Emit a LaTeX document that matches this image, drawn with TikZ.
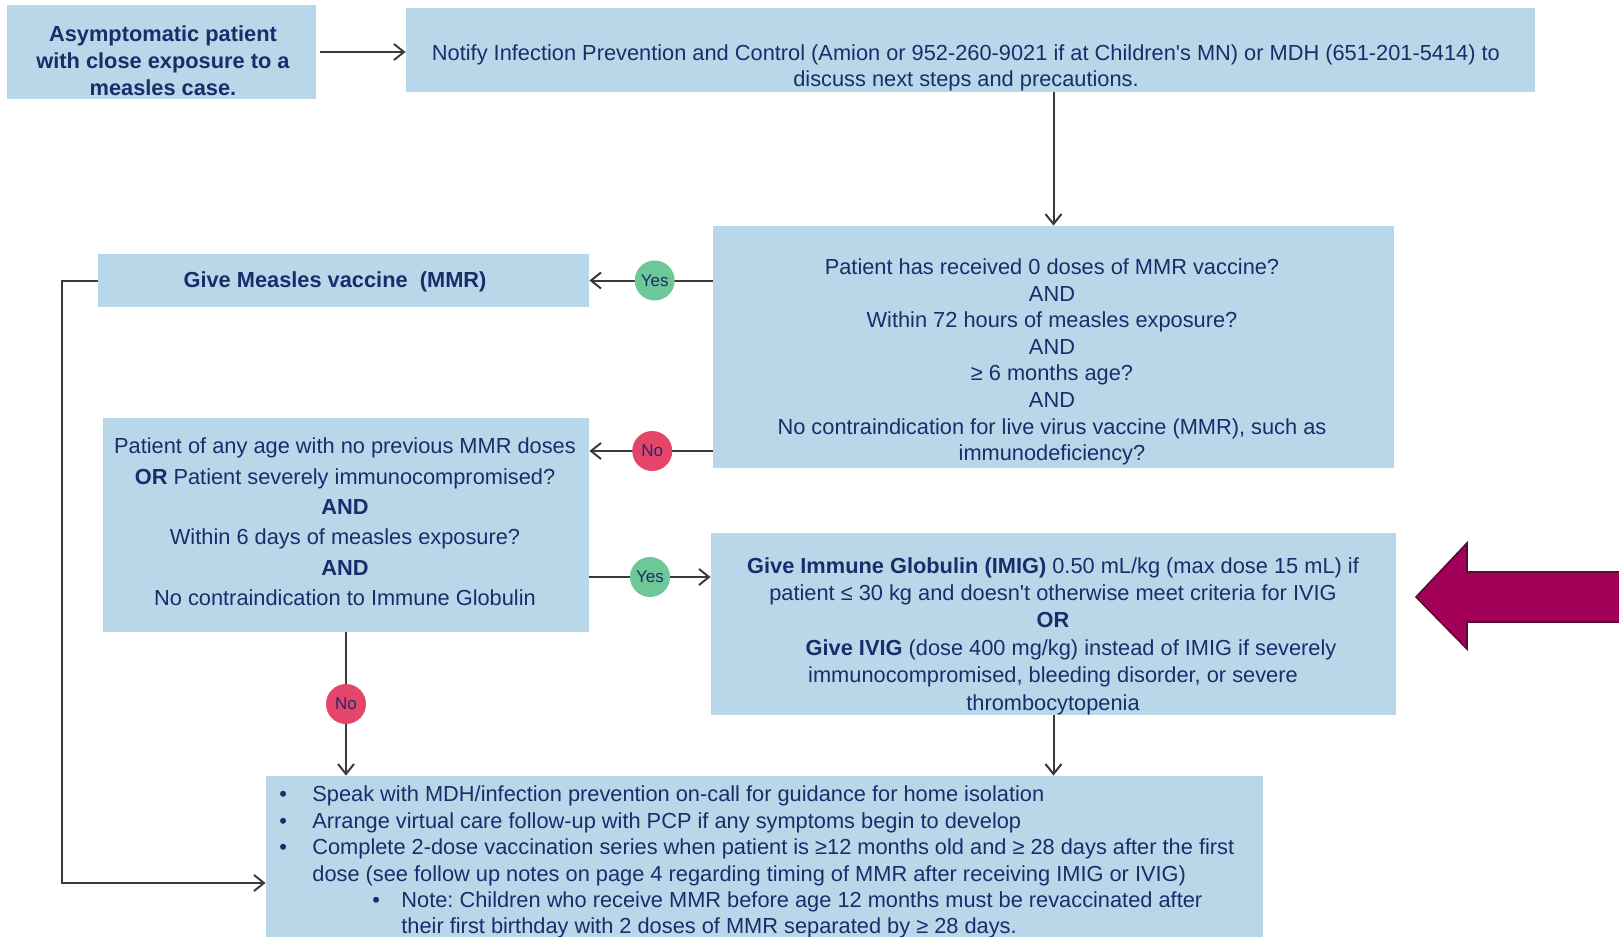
\documentclass[tikz,border=0pt]{standalone}
\usepackage{fontspec}
\setmainfont{Liberation Sans}
\usetikzlibrary{arrows.meta, positioning, calc}
\frenchspacing
\definecolor{mmrBox}{HTML}{B8D8EA}
\definecolor{mmrInk}{HTML}{1C2B6B}
\definecolor{mmrYes}{HTML}{6DC797}
\definecolor{mmrNo}{HTML}{E6456A}
\definecolor{mmrLine}{HTML}{3A3A3A}
\definecolor{mmrPoint}{HTML}{A3005A}
\definecolor{mmrPointEdge}{HTML}{5A0A32}
\newcommand{\mfont}{\fontsize{10.9}{13.3}\selectfont}
\tikzset{
  mbox/.style={fill=mmrBox, inner sep=0pt},
  mtext/.style={text=mmrInk, align=center, inner sep=0pt, font=\mfont},
  dot/.style={circle, minimum size=20pt, inner sep=0pt, text=mmrInk, font=\fontsize{8.5}{10}\selectfont},
  yesdot/.style={dot, fill=mmrYes},
  nodot/.style={dot, fill=mmrNo},
  flow/.style={-{Straight Barb[length=5pt, width=8pt]}, line width=1pt, mmrLine},
  pointer/.style={fill=mmrPoint, draw=mmrPointEdge, line width=0.8pt}
}
\begin{document}
\begin{tikzpicture}[x=0.5pt, y=-0.5pt]
  \useasboundingbox (0,0) rectangle (1619,937);
  \clip (0,0) rectangle (1619,937);

  % boxes
  \node[mbox, minimum width=154.5pt, minimum height=47pt] (start) at (161.5,52) {};
  \node[mbox, minimum width=564.5pt, minimum height=42pt] (notify) at (970.5,50) {};
  \node[mbox, minimum width=340.5pt, minimum height=121pt] (criteria) at (1053.5,347) {};
  \node[mbox, minimum width=245.5pt, minimum height=26.5pt] (mmr) at (343.5,280.5) {};
  \node[mbox, minimum width=243pt, minimum height=107pt] (anyage) at (346,525) {};
  \node[mbox, minimum width=342.5pt, minimum height=91pt] (globulin) at (1053.5,624) {};
  \node[mbox, minimum width=498.5pt, minimum height=92pt] (care) at (764.5,868) {};

  % texts
  \node[mtext, font=\fontsize{10.9}{13.5}\selectfont\bfseries] (start-t) at (163,61)
    {Asymptomatic patient\\with close exposure to a\\measles case.};
  \node[mtext, font=\fontsize{10.9}{13}\selectfont] (notify-t) at (966,68)
    {Notify Infection Prevention and Control (Amion or 952-260-9021 if at Children\textquotesingle s MN) or MDH (651-201-5414) to\\discuss next steps and precautions.};
  \node[mtext] (criteria-t) at (1052,362)
    {Patient has received 0 doses of MMR vaccine?\\AND\\Within 72 hours of measles exposure?\\AND\\≥ 6 months age?\\AND\\No contraindication for live virus vaccine (MMR), such as\\immunodeficiency?};
  \node[mtext, font=\mfont\bfseries] (mmr-t) at (335,282) {Give Measles vaccine\ \ (MMR)};
  \node[mtext, font=\fontsize{10.9}{15.2}\selectfont] (anyage-t) at (345,522)
    {Patient of any age with no previous MMR doses\\\textbf{OR} Patient severely immunocompromised?\\\textbf{AND}\\Within 6 days of measles exposure?\\\textbf{AND}\\No contraindication to Immune Globulin};
  \node[mtext, font=\fontsize{10.9}{13.7}\selectfont] (globulin-t) at (1053,636)
    {\textbf{Give Immune Globulin (IMIG)} 0.50 mL/kg (max dose 15 mL) if\\patient ≤ 30 kg and doesn\textquotesingle t otherwise meet criteria for IVIG\\\textbf{OR}\\\hspace{18pt}\textbf{Give IVIG} (dose 400 mg/kg) instead of IMIG if severely\\immunocompromised, bleeding disorder, or severe\\thrombocytopenia};
  \node[mtext, align=left, anchor=north west, font=\fontsize{10.9}{13.2}\selectfont] (care-t) at (279,783) {%
    \begin{tabular}{@{}p{16.5pt}@{}l@{}}
      \textbullet & Speak with MDH/infection prevention on-call for guidance for home isolation\\
      \textbullet & Arrange virtual care follow-up with PCP if any symptoms begin to develop\\
      \textbullet & Complete 2-dose vaccination series when patient is ≥12 months old and ≥ 28 days after the first\\
                  & dose (see follow up notes on page 4 regarding timing of MMR after receiving IMIG or IVIG)\\
                  & \makebox[44.5pt][l]{\hspace{30pt}\textbullet}Note: Children who receive MMR before age 12 months must be revaccinated after\\
                  & \hspace{44.5pt}their first birthday with 2 doses of MMR separated by ≥ 28 days.
    \end{tabular}};

  % connectors
  \coordinate (noY) at (0,451);
  \coordinate (yesY) at (0,577);
  \coordinate (loop) at (62,883);
  \draw[flow] ([xshift=2pt]start.east) -- (start.east -| notify.west);
  \draw[flow] (notify.south -| criteria.north) -- (criteria.north);
  \draw[flow] (mmr.east -| criteria.west) -- node[yesdot, pos=0.47] (yes1) {Yes} (mmr.east);
  \draw[flow] (criteria.west |- noY) -- node[nodot, pos=0.49] (no1) {No} (anyage.east |- noY);
  \draw[flow] (anyage.east |- yesY) -- node[yesdot] (yes2) {Yes} (globulin.west |- yesY);
  \draw[flow] (anyage.south) -- node[nodot] (no2) {No} (anyage.south |- care.north);
  \draw[flow] (globulin.south) -- (globulin.south |- care.north);
  \draw[flow] (mmr.west) -| (loop) -- (care.west |- loop);

  % pointer arrow
  \draw[pointer] (1416,597) -- (1467,543) -- (1467,572) -- (1630,572) -- (1630,622)
    -- (1467,622) -- (1467,649) -- cycle;
\end{tikzpicture}
\end{document}
